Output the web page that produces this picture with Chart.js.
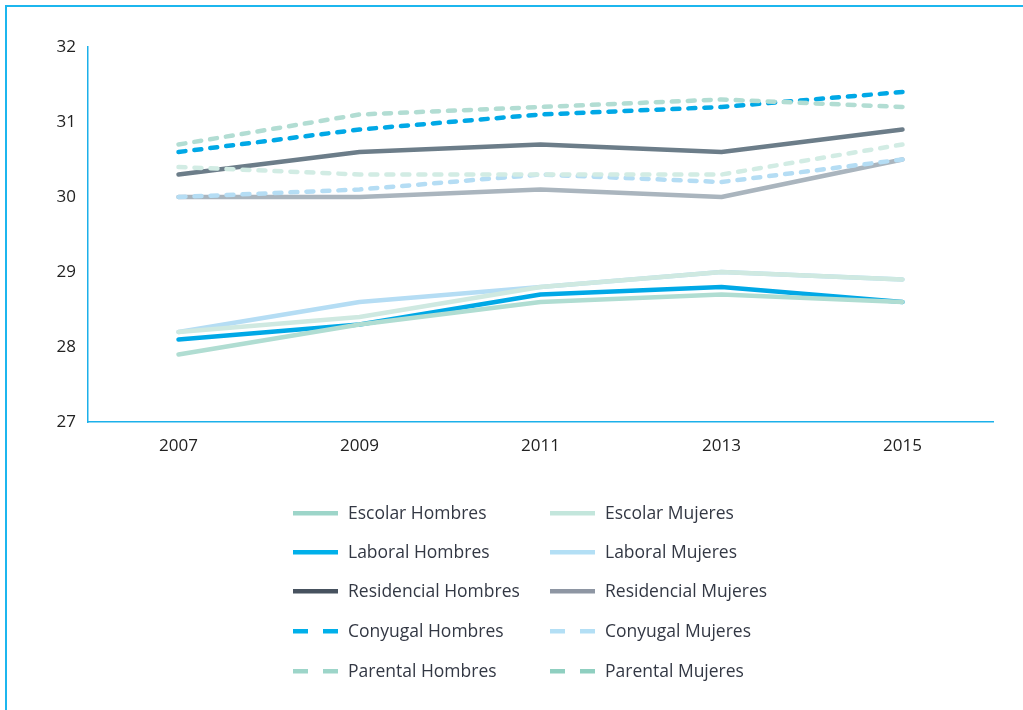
<!DOCTYPE html>
<html lang="es">
<head>
<meta charset="utf-8">
<title>Edad media por tipo de transición</title>
<script src="https://cdn.jsdelivr.net/npm/chart.js@4/dist/chart.umd.min.js"></script>
<style>
  html, body { margin: 0; padding: 0; background: #ffffff; }
  body { width: 1023px; height: 710px; position: relative; overflow: hidden; }
  #frame {
    position: absolute; left: 5px; top: 5px; right: 0; bottom: 0;
    border-top: 2.5px solid #1cb6ee; border-left: 2.5px solid #1cb6ee;
    pointer-events: none;
  }
  #wrap { position: absolute; left: 0; top: 0; width: 1023px; height: 710px; }
</style>
</head>
<body>
<div id="wrap"><canvas id="chart" width="1023" height="710"></canvas></div>
<div id="frame"></div>
<script>
// Years on the horizontal axis
const years = ['2007', '2009', '2011', '2013', '2015'];

// Average age per transition, men and women
const escolarHombres     = [27.9, 28.3, 28.6, 28.7, 28.6];
const escolarMujeres     = [28.2, 28.4, 28.8, 29.0, 28.9];
const laboralHombres     = [28.1, 28.3, 28.7, 28.8, 28.6];
const laboralMujeres     = [28.2, 28.6, 28.8, 29.0, 28.9];
const residencialHombres = [30.3, 30.6, 30.7, 30.6, 30.9];
const residencialMujeres = [30.0, 30.0, 30.1, 30.0, 30.5];
const conyugalHombres    = [30.6, 30.9, 31.1, 31.2, 31.4];
const conyugalMujeres    = [30.0, 30.1, 30.3, 30.2, 30.5];
const parentalHombres    = [30.7, 31.1, 31.2, 31.3, 31.2];
const parentalMujeres    = [30.4, 30.3, 30.3, 30.3, 30.7];

// Y axis ticks
const yTicks = [27, 28, 29, 30, 31, 32];

const seriesNames = [
  'Escolar Hombres', 'Escolar Mujeres',
  'Laboral Hombres', 'Laboral Mujeres',
  'Residencial Hombres', 'Residencial Mujeres',
  'Conyugal Hombres', 'Conyugal Mujeres',
  'Parental Hombres', 'Parental Mujeres'
];
const seriesData = [
  escolarHombres, escolarMujeres,
  laboralHombres, laboralMujeres,
  residencialHombres, residencialMujeres,
  conyugalHombres, conyugalMujeres,
  parentalHombres, parentalMujeres
];
// line colours in the plot
const lineColors = [
  '#b0ddd2', '#cfe9e1',
  '#00a8e6', '#b5ddf4',
  '#6c7d89', '#aab5be',
  '#00a8e6', '#b5ddf4',
  '#b2ddd3', '#d2ece4'
];
// swatch colours in the legend
const swatchColors = [
  '#9dd5c9', '#c3e6dc',
  '#00b0ea', '#b3dff5',
  '#47525f', '#8e96a3',
  '#00b0ea', '#b3dff5',
  '#9dd5c9', '#8fcfc0'
];
const dashed = [false, false, false, false, false, false, true, true, true, true];

const FONT = '"Open Sans", Lato, sans-serif';

// draw order: back to front
const drawOrder = [9, 8, 7, 6, 5, 4, 0, 1, 3, 2];

const datasets = seriesNames.map((name, i) => ({
  label: name,
  data: seriesData[i],
  borderColor: lineColors[i],
  backgroundColor: lineColors[i],
  borderWidth: 4.5,
  borderDash: dashed[i] ? [7, 9] : [],
  borderCapStyle: 'round',
  borderJoinStyle: 'round',
  pointRadius: 0,
  pointHoverRadius: 0,
  tension: 0,
  fill: false,
  order: drawOrder.indexOf(i)
}));

// Two-column legend below the plot
const gridLegend = {
  id: 'gridLegend',
  afterDraw(chart) {
    const ctx = chart.ctx;
    const colX = [293, 550];
    const rowY = [513, 552, 591, 631, 671];
    ctx.save();
    ctx.font = '17.5px ' + FONT;
    ctx.textBaseline = 'middle';
    ctx.textAlign = 'left';
    seriesNames.forEach((name, i) => {
      const x = colX[i % 2];
      const y = rowY[Math.floor(i / 2)];
      ctx.fillStyle = swatchColors[i];
      if (dashed[i]) {
        ctx.fillRect(x, y - 2, 15, 4.5);
        ctx.fillRect(x + 30, y - 2, 15, 4.5);
      } else {
        ctx.fillRect(x, y - 2, 45, 4.5);
      }
      ctx.fillStyle = '#333844';
      ctx.fillText(name, x + 55, y + 1);
    });
    ctx.restore();
  }
};

new Chart(document.getElementById('chart'), {
  type: 'line',
  data: { labels: years, datasets },
  options: {
    responsive: false,
    animation: false,
    events: [],
    layout: { padding: { left: 0, top: 47, right: 30, bottom: 248 } },
    plugins: {
      legend: { display: false },
      tooltip: { enabled: false },
      title: { display: false }
    },
    scales: {
      x: {
        offset: true,
        grid: { display: false, drawTicks: false },
        border: { display: true, color: '#1cb0ea', width: 1.5 },
        ticks: {
          color: '#222222',
          font: { family: FONT, size: 17 },
          padding: 14
        },
        afterFit(scale) { scale.height = 40; }
      },
      y: {
        min: 27,
        max: 32,
        grid: { display: false, drawTicks: false },
        border: { display: true, color: '#1cb0ea', width: 1.5 },
        afterBuildTicks(scale) { scale.ticks = yTicks.map(v => ({ value: v })); },
        ticks: {
          color: '#222222',
          font: { family: FONT, size: 17 },
          padding: 12
        },
        afterFit(scale) { scale.width = 88; }
      }
    }
  },
  plugins: [gridLegend]
});
</script>
</body>
</html>
